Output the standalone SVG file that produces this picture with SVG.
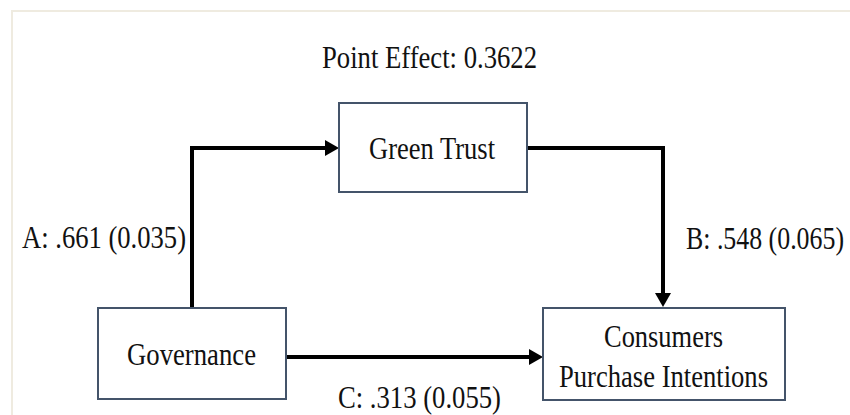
<svg xmlns="http://www.w3.org/2000/svg" width="850" height="415" viewBox="0 0 850 415">
  <style>
    .frame { fill: none; stroke: #efebe0; stroke-width: 2; }
    .box { fill: #ffffff; stroke: #44546a; stroke-width: 2; }
    .edge { fill: none; stroke: #000000; stroke-width: 4; stroke-linejoin: miter; }
    .lbl { font-family: "Liberation Serif", "Times New Roman", serif; font-size: 27px; fill: #111111; }
  </style>
  <defs>
    <marker id="arrow" viewBox="0 0 14 16" refX="8" refY="8" markerWidth="14" markerHeight="16" markerUnits="userSpaceOnUse" orient="auto">
      <path d="M0,0 L14,8 L0,16 Z" fill="#000000"/>
    </marker>
  </defs>

  <rect width="850" height="415" fill="#ffffff"/>
  <!-- page frame -->
  <path class="frame" d="M12,415 V11 H850"/>

  <!-- connectors -->
  <g id="connectors">
    <path class="edge" d="M192,308 V148 H333" marker-end="url(#arrow)"/>
    <path class="edge" d="M527,148 H663 V301" marker-end="url(#arrow)"/>
    <path class="edge" d="M286,357 H537" marker-end="url(#arrow)"/>
  </g>

  <!-- path coefficients (type is set narrow and tall) -->
  <g id="labels">
    <text class="lbl" transform="translate(322,68) scale(1,1.18)" textLength="215" lengthAdjust="spacingAndGlyphs">Point Effect: 0.3622</text>
    <text class="lbl" transform="translate(22,248) scale(1,1.18)" textLength="164" lengthAdjust="spacingAndGlyphs">A: .661 (0.035)</text>
    <text class="lbl" transform="translate(686,249) scale(1,1.18)" textLength="158" lengthAdjust="spacingAndGlyphs">B: .548 (0.065)</text>
    <text class="lbl" transform="translate(338,408) scale(1,1.18)" textLength="163" lengthAdjust="spacingAndGlyphs">C: .313 (0.055)</text>
  </g>

  <g id="green-trust">
    <rect class="box" x="339" y="103" width="188" height="89"/>
    <text class="lbl" transform="translate(369,159) scale(1,1.18)" textLength="126" lengthAdjust="spacingAndGlyphs">Green Trust</text>
  </g>

  <g id="governance">
    <rect class="box" x="98" y="308" width="188" height="91"/>
    <text class="lbl" transform="translate(127,365) scale(1,1.18)" textLength="129" lengthAdjust="spacingAndGlyphs">Governance</text>
  </g>

  <g id="purchase-intentions">
    <rect class="box" x="543" y="308" width="242" height="92"/>
    <text class="lbl" transform="translate(604,347) scale(1,1.18)" textLength="119" lengthAdjust="spacingAndGlyphs">Consumers</text>
    <text class="lbl" transform="translate(559,387) scale(1,1.18)" textLength="209" lengthAdjust="spacingAndGlyphs">Purchase Intentions</text>
  </g>
</svg>
